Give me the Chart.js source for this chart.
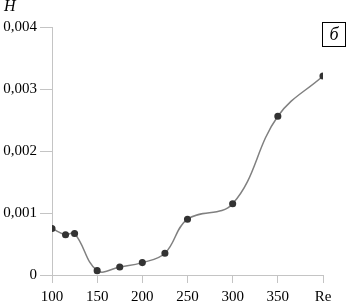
<!DOCTYPE html>
<html>
<head>
<meta charset="utf-8">
<script src="https://cdn.jsdelivr.net/npm/chart.js@4/dist/chart.umd.min.js"></script>
<style>
  html, body { margin: 0; padding: 0; background: #fff; }
  #wrap { position: relative; width: 346px; height: 302px; }
  #c { position: absolute; left: 0; top: 0; }
  .lbl { position: absolute; font-family: "Liberation Serif", serif; color: #000; }
  #ylab { left: 4px; top: -3px; font-size: 16px; font-style: italic; }
  #tag { left: 322px; top: 22px; width: 22px; height: 23px; border: 1px solid #000;
         font-size: 18px; font-style: italic; text-align: center; line-height: 22px; box-sizing: content-box; }
</style>
</head>
<body>
<div id="wrap">
  <canvas id="c" width="346" height="302"></canvas>
  <div class="lbl" id="ylab">H</div>
  <div class="lbl" id="tag">б</div>
</div>
<script>
const reValues = [100, 115, 125, 150, 175, 200, 225, 250, 300, 350, 400];
const hValues = [0.00075, 0.00065, 0.00067, 0.00007, 0.00013, 0.0002, 0.00035, 0.0009, 0.00115, 0.00256, 0.00321];
const xTickValues = [100, 150, 200, 250, 300, 350, 400];
const xTickLabels = ["100", "150", "200", "250", "300", "350", "Re"];
const yTickValues = [0, 0.001, 0.002, 0.003, 0.004];
const yTickLabels = ["0", "0,001", "0,002", "0,003", "0,004"];

const font = { family: "Liberation Serif", size: 15 };
const axisColor = "#c4c4c4";

new Chart(document.getElementById("c"), {
  type: "line",
  data: {
    datasets: [{
      data: reValues.map((x, i) => ({ x: x, y: hValues[i] })),
      borderColor: "#808080",
      borderWidth: 1.5,
      pointBackgroundColor: "#333",
      pointBorderColor: "#333",
      pointRadius: 2.8,
      tension: 0.4,
      fill: false
    }]
  },
  options: {
    responsive: false,
    animation: false,
    devicePixelRatio: 1,
    layout: { padding: { left: 0, right: 23, top: 27, bottom: 0 } },
    plugins: { legend: { display: false }, tooltip: { enabled: false } },
    scales: {
      x: {
        type: "linear",
        min: 100, max: 400,
        afterBuildTicks: s => { s.ticks = xTickValues.map(v => ({ value: v })); },
        afterFit: s => { s.height = 27; },
        ticks: {
          color: "#000", font: font, padding: 5, maxRotation: 0,
          callback: v => xTickLabels[xTickValues.indexOf(v)]
        },
        grid: { drawOnChartArea: false, drawTicks: true, tickLength: 8, color: axisColor },
        border: { display: true, color: axisColor, width: 1 }
      },
      y: {
        type: "linear",
        min: 0, max: 0.004,
        afterBuildTicks: s => { s.ticks = yTickValues.map(v => ({ value: v })); },
        afterFit: s => { s.width = 52; },
        ticks: {
          color: "#000", font: font, padding: 3,
          callback: v => yTickLabels[yTickValues.indexOf(v)]
        },
        grid: { drawOnChartArea: false, drawTicks: true, tickLength: 12, color: axisColor },
        border: { display: true, color: axisColor, width: 1 }
      }
    }
  }
});
</script>
</body>
</html>
